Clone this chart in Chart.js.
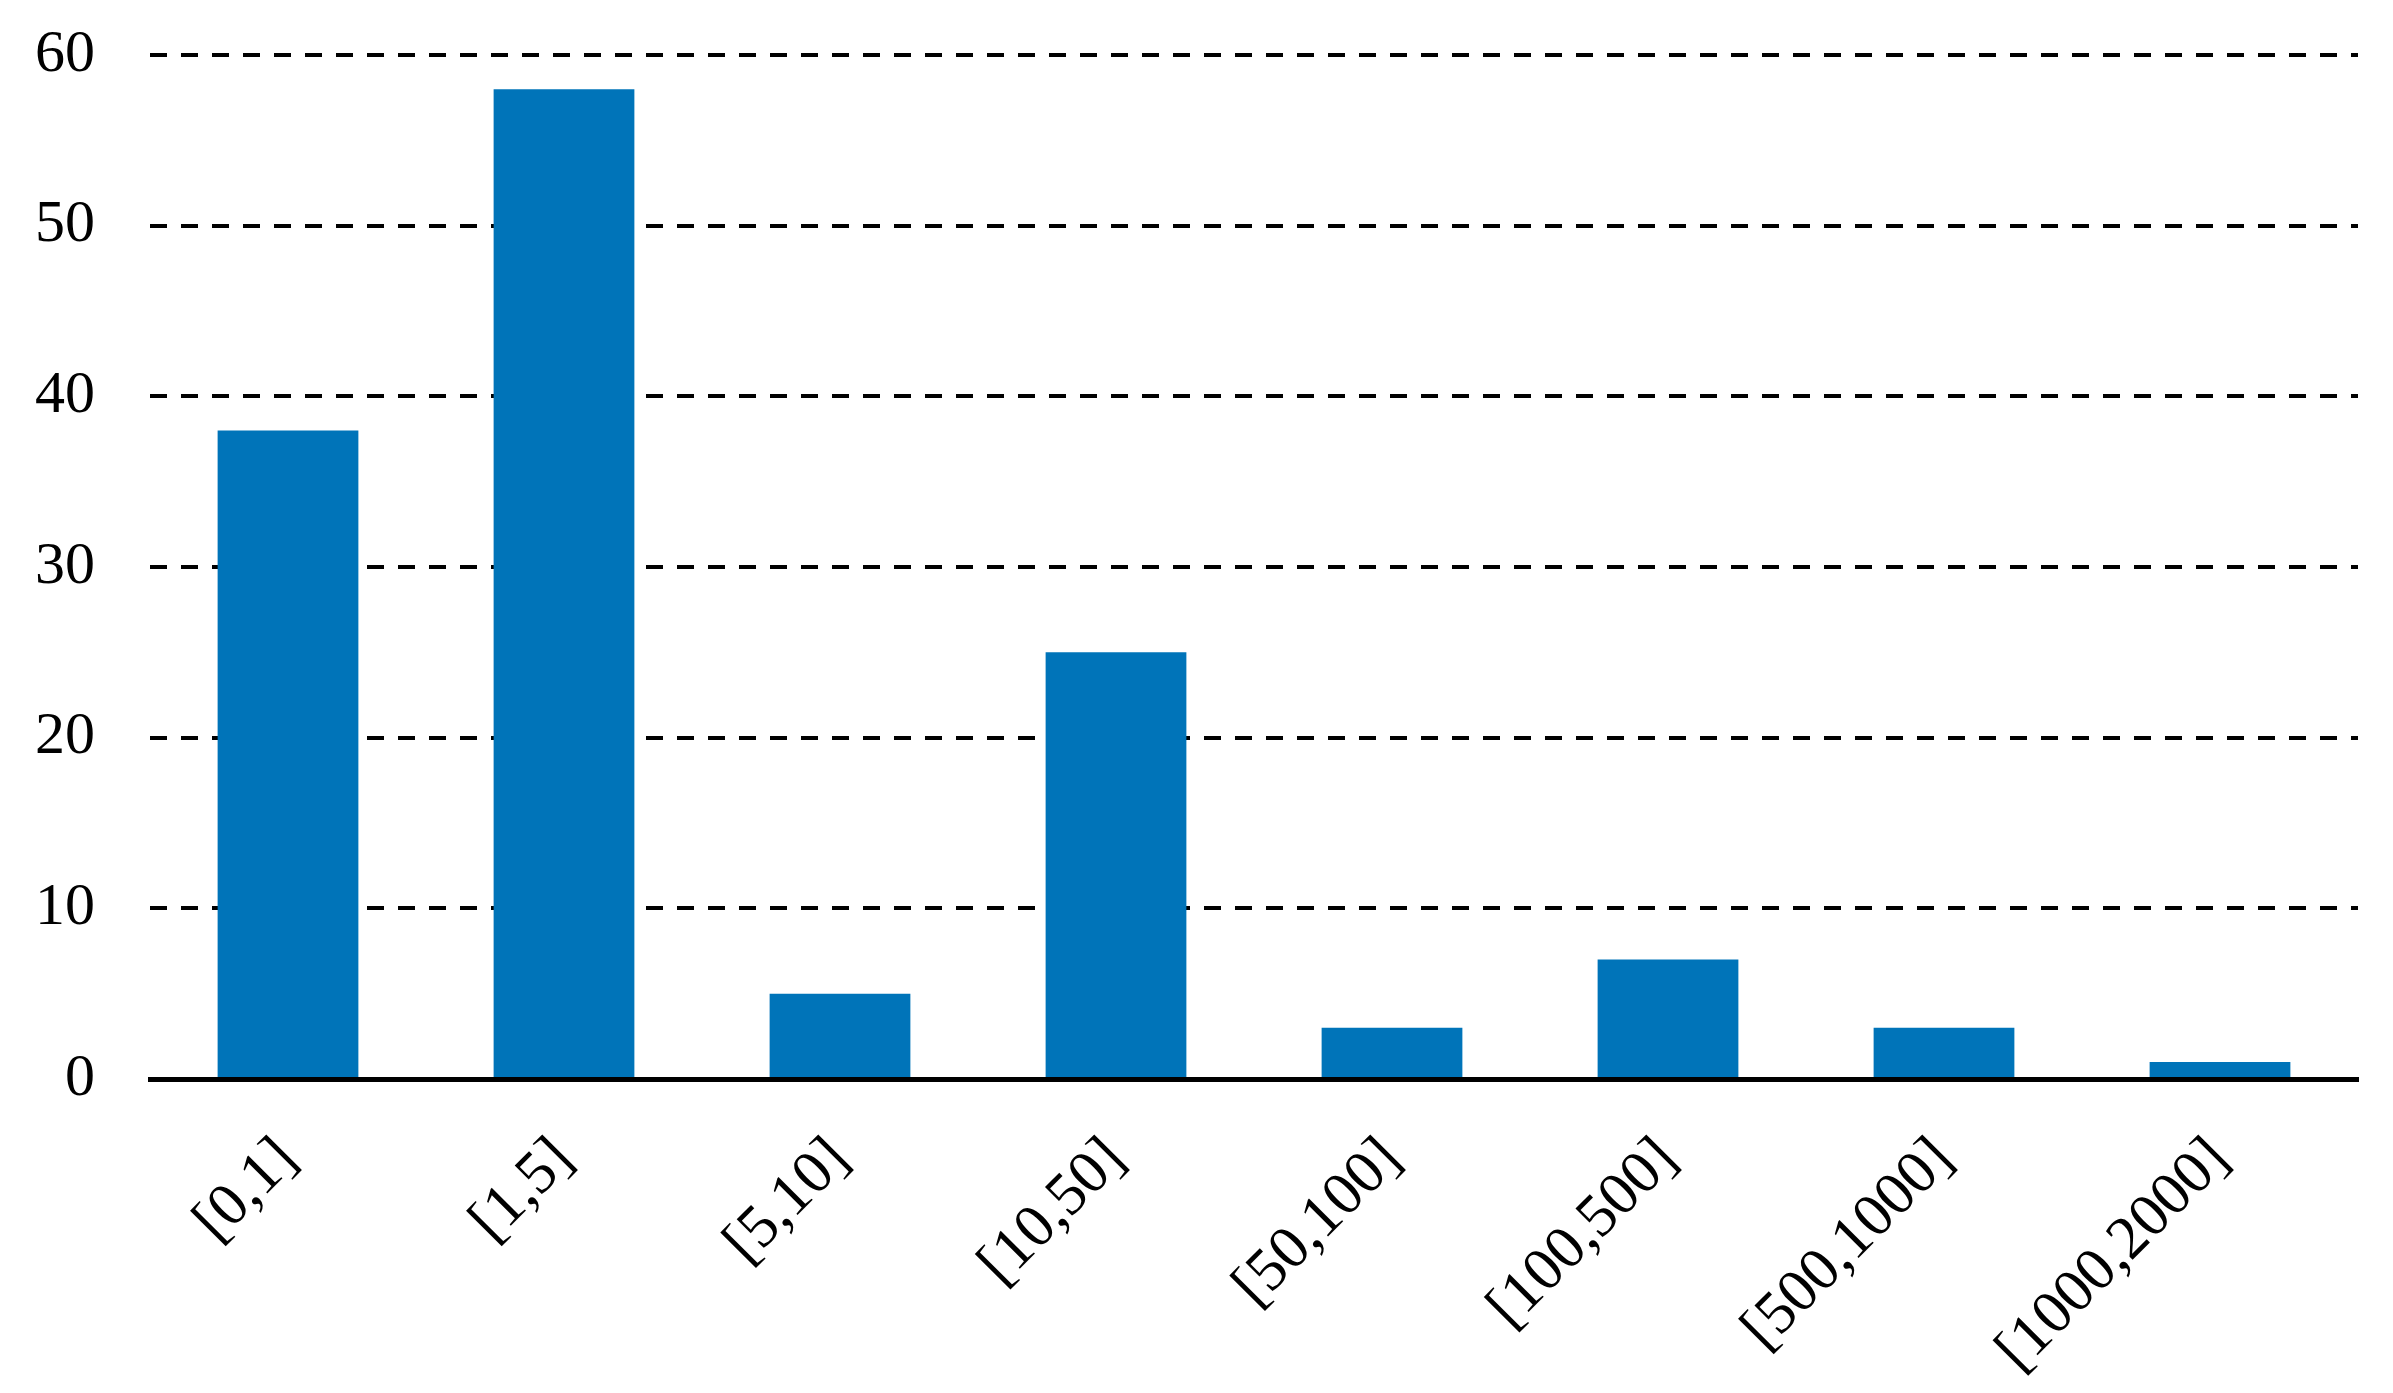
<!DOCTYPE html>
<html>
<head>
<meta charset="utf-8">
<script src="https://cdn.jsdelivr.net/npm/chart.js@4"></script>
<style>
  html, body { margin: 0; padding: 0; background: #fff; }
  #wrap { width: 2393px; height: 1393px; }
</style>
</head>
<body>
<div id="wrap"><canvas id="histChart" width="2393" height="1393"></canvas></div>
<script>
    // Data
    const labels = ["[0,1]", "[1,5]", "[5,10]", "[10,50]", "[50,100]", "[100,500]", "[500,1000]", "[1000,2000]"];
    const counts = [38, 58, 5, 25, 3, 7, 3, 1];
    const yTicks = [0, 10, 20, 30, 40, 50, 60];

    const serif = "'Liberation Serif', 'DejaVu Serif', serif";

    const ctx = document.getElementById('histChart').getContext('2d');
    new Chart(ctx, {
        type: 'bar',
        data: {
            labels: labels,
            datasets: [{
                data: counts,
                backgroundColor: '#0074B9',
                borderWidth: 0,
                barPercentage: 0.51,
                categoryPercentage: 1.0
            }]
        },
        options: {
            responsive: false,
            animation: false,
            layout: { padding: { top: 0, right: 35, left: 0, bottom: 0 } },
            plugins: {
                legend: { display: false },
                tooltip: { enabled: false }
            },
            scales: {
                y: {
                    min: 0,
                    max: 60,
                    afterBuildTicks: (scale) => { scale.ticks = yTicks.map(v => ({ value: v })); },
                    afterFit: (scale) => { scale.width = 150; scale.paddingTop = 55; },
                    border: { display: false, dash: [17, 14] },
                    grid: { color: '#000', lineWidth: 4, drawTicks: false },
                    ticks: {
                        padding: 55,
                        color: '#000',
                        font: { family: serif, size: 60 }
                    }
                },
                x: {
                    z: 1,
                    afterFit: (scale) => { scale.height = 314; },
                    border: { display: true, color: '#000', width: 5 },
                    grid: { display: false, drawTicks: false },
                    ticks: {
                        padding: 45,
                        minRotation: 45,
                        maxRotation: 45,
                        color: '#000',
                        font: { family: serif, size: 61 }
                    }
                }
            }
        }
    });
</script>
</body>
</html>
